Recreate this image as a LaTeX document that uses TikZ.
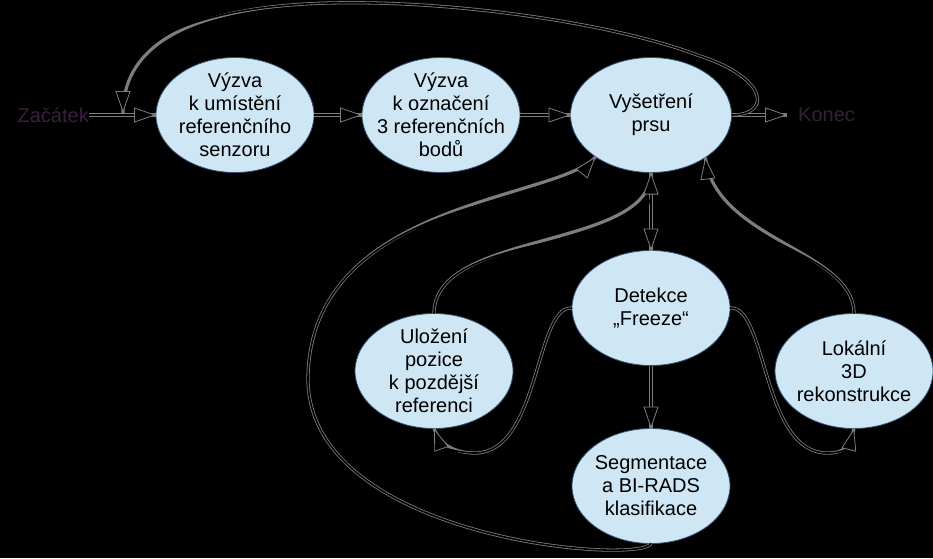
\documentclass[tikz,border=0pt]{standalone}
\usepackage{fontspec}
\setmainfont{Liberation Sans}
\usetikzlibrary{shapes.geometric,arrows.meta}
\definecolor{bublina}{RGB}{207,231,245}
\definecolor{okraj}{RGB}{50,80,112}
\definecolor{cara}{RGB}{125,125,125}
\definecolor{krajtext}{RGB}{58,30,62}
\begin{document}
\begin{tikzpicture}[x=1pt,y=-1pt,
  every node/.style={font=\fontsize{20}{23}\selectfont,align=center},
  faze/.style={ellipse,draw=okraj,fill=bublina,line width=0.8pt,
    minimum width=158pt,minimum height=115pt,inner sep=-10pt,outer sep=0pt},
  krajni/.style={text=krajtext,inner sep=0pt},
  tok/.style={draw=black,line width=1.6pt,
    preaction={draw=cara,line width=3.2pt,-},
    -{Triangle[open,length=22pt,width=15pt,line width=0.8pt,color=cara,fill=black]}}]
\useasboundingbox (0,0) rectangle (933,558);
\fill[black] (0,0) rectangle (933,558);
% horni rada
\node[krajni,anchor=east] (zacatek) at (89,115) {Začátek};
\node[faze] (vyzva1) at (235,115) {Výzva\\k umístění\\referenčního\\senzoru};
\node[faze] (vyzva2) at (441,115) {Výzva\\k označení\\3 referenčních\\bodů};
\node[faze,minimum width=161pt] (vysetreni) at (651,115) {Vyšetření\\prsu};
\node[krajni,anchor=west] (konec) at (798,115) {Konec};
\coordinate (navrat) at (123,113);
% dolni cast
\node[faze] (detekce) at (651,308) {Detekce\\„Freeze“};
\node[faze] (ulozeni) at (434,371) {Uložení\\pozice\\k pozdější\\referenci};
\node[faze] (lokalni) at (854,371) {Lokální\\3D\\rekonstrukce};
\node[faze] (segmentace) at (651,486) {Segmentace\\a BI-RADS\\klasifikace};
% spoje
\draw[tok] (zacatek) -- (vyzva1);
\draw[tok] (vyzva1) -- (vyzva2);
\draw[tok] (vyzva2) -- (vysetreni);
\draw[tok,shorten >=11pt] (vysetreni) -- (konec);
\draw[tok] (vysetreni.east) .. controls (772,115) and (768,78) .. (700,56)
  .. controls (620,25) and (460,0) .. (330,3)
  .. controls (200,6) and (123,40) .. (navrat);
\draw[tok] (vysetreni) -- (detekce);
\draw[tok] (detekce) -- (segmentace);
\draw[tok] (ulozeni.north) .. controls (434,230) and (651,250) .. (vysetreni.south);
\draw[tok] (segmentace.south) .. controls (640,565) and (310,540) .. (308,380)
  .. controls (308,200) and (560,200) .. (vysetreni.-143);
\draw[tok] (lokalni.north) .. controls (854,250) and (715,240) .. (vysetreni.-38);
\draw[tok] (detekce.west) .. controls (535,305) and (540,453) .. (475,453)
  .. controls (455,453) and (440,445) .. (ulozeni.south);
\draw[tok] (detekce.east) .. controls (767,305) and (762,453) .. (827,453)
  .. controls (847,453) and (850,445) .. (lokalni.south);
\end{tikzpicture}
\end{document}
